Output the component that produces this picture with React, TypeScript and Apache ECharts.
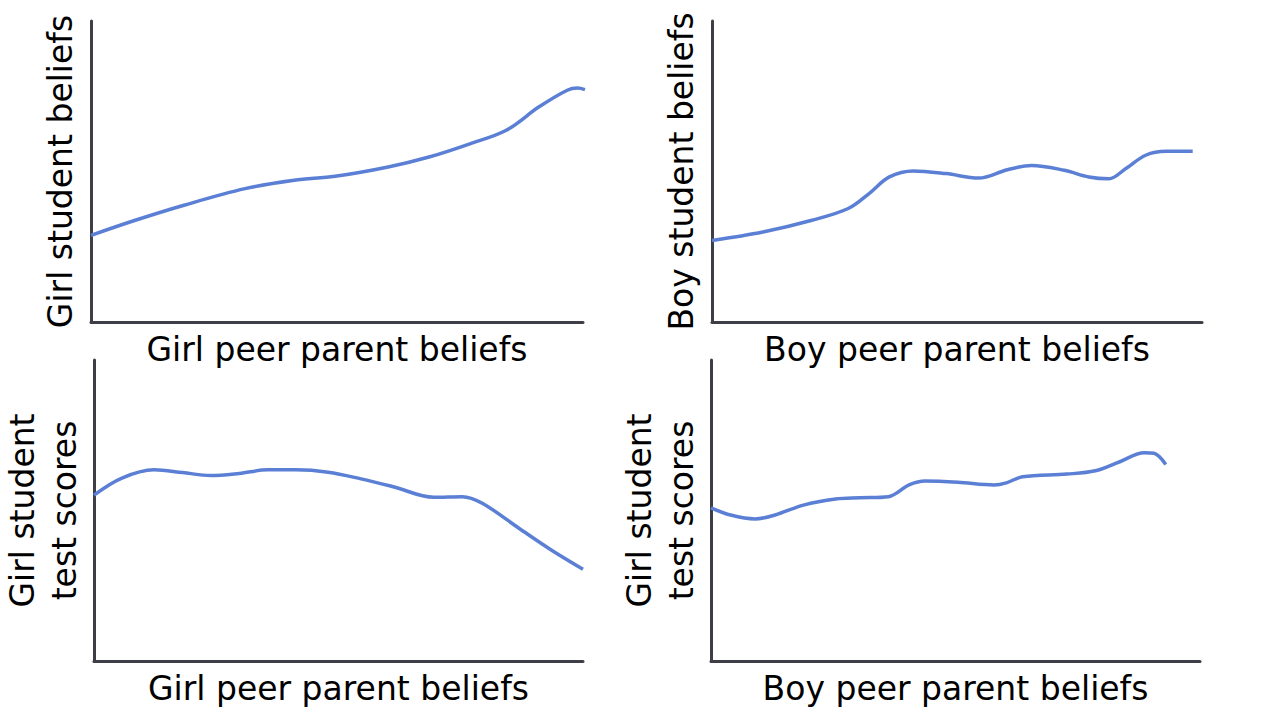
import React, { useEffect, useRef } from "react";
import * as echarts from "echarts";

// Panel 1: Girl peer parent beliefs -> Girl student beliefs
const X1 = [0, 9, 18.9, 31.3, 41.3, 49.6, 60.4, 68.7, 77, 84.4, 91, 96.8, 98.9, 100.4];
const Y1 = [28.8, 33.8, 38.8, 44.3, 47.1, 48.4, 51.5, 54.8, 59.2, 63.7, 71.4, 77, 77.7, 77.2];

// Panel 2: Boy peer parent beliefs -> Boy student beliefs
const X2 = [0, 10.4, 20.4, 27.8, 32, 36.2, 41.1, 47.8, 54.4, 60.3, 65.2, 71.9, 76.9, 81, 84.4, 88.5, 92.7, 98.1];
const Y2 = [27.1, 29.9, 33.8, 37.7, 42.6, 48.2, 50.2, 49.3, 47.8, 50.6, 52, 50.4, 48.2, 47.6, 50.9, 55.4, 56.7, 56.7];

// Panel 3: Girl peer parent beliefs -> Girl student test scores
const X3 = [0, 5.6, 12.3, 18.1, 23.9, 29.7, 35.5, 41.3, 47.9, 54.6, 61.2, 69.5, 75.3, 79.4, 86.9, 93.5, 100];
const Y3 = [55.1, 60.7, 63.5, 62.6, 61.6, 62.3, 63.5, 63.5, 62.7, 60.5, 57.9, 54.4, 54.6, 52.4, 44.1, 36.9, 30.5];

// Panel 4: Boy peer parent beliefs -> Girl student test scores
const X4 = [0, 4, 9, 13.1, 18.9, 25.5, 30.5, 36.3, 40.5, 43.8, 50.5, 57.9, 60.4, 63.7, 72.8, 78.6, 83.6, 88.6, 90.6, 93];
const Y4 = [50.9, 48.5, 47.2, 48.5, 51.8, 53.8, 54.2, 54.6, 58.5, 59.8, 59.4, 58.5, 59.2, 61.2, 62.1, 63.2, 66.2, 69.2, 69, 65.3];

const X_NAMES = ["Girl peer parent beliefs", "Boy peer parent beliefs", "Girl peer parent beliefs", "Boy peer parent beliefs"];
const Y_NAMES = ["Girl student beliefs", "Boy student beliefs", "Girl student\ntest scores", "Girl student\ntest scores"];

const XS = [X1, X2, X3, X4];
const YS = [Y1, Y2, Y3, Y4];

const GRIDS = [
  { left: 91, top: 21, width: 492, height: 301 },
  { left: 712, top: 21, width: 490, height: 301 },
  { left: 91, top: 360, width: 492, height: 301 },
  { left: 711, top: 360, width: 489, height: 301 },
];

const FONT = "DejaVu Sans";
const FS = 33;
const AXIS_COLOR = "#3e3e46";
const LINE_COLOR = "#5b7fd5";

export default function App() {
  const ref = useRef<HTMLDivElement>(null);
  useEffect(() => {
    document.body.style.margin = "0";
    if (!ref.current) return;
    const chart = echarts.init(ref.current, null, { renderer: "svg" });
    const axisBase = {
      type: "value" as const,
      min: 0,
      max: 100,
      axisLine: { show: true, lineStyle: { color: AXIS_COLOR, width: 3 } },
      axisTick: { show: false },
      axisLabel: { show: false },
      splitLine: { show: false },
      nameLocation: "middle" as const,
    };
    chart.setOption({
      animation: false,
      backgroundColor: "#fff",
      grid: GRIDS.map((g) => ({ ...g, containLabel: false })),
      xAxis: X_NAMES.map((n, i) => ({
        ...axisBase,
        gridIndex: i,
        name: n,
        nameGap: 11,
        nameTextStyle: { fontFamily: FONT, fontSize: FS, color: "#000", lineHeight: FS },
      })),
      yAxis: Y_NAMES.map((n, i) => {
        const multi = n.indexOf("\n") >= 0;
        return {
          ...axisBase,
          gridIndex: i,
          name: n,
          nameRotate: 90,
          nameGap: multi ? 9 : 14,
          nameTextStyle: { fontFamily: FONT, fontSize: FS, color: "#000", lineHeight: multi ? 42 : FS },
        };
      }),
      series: XS.map((xs, i) => ({
        type: "line",
        xAxisIndex: i,
        yAxisIndex: i,
        smooth: 0.35,
        symbol: "none",
        clip: false,
        lineStyle: { color: LINE_COLOR, width: 3.5 },
        data: xs.map((x, j) => [x, YS[i][j]]),
      })),
    });
    return () => chart.dispose();
  }, []);
  return <div ref={ref} style={{ width: 1280, height: 720 }} />;
}
